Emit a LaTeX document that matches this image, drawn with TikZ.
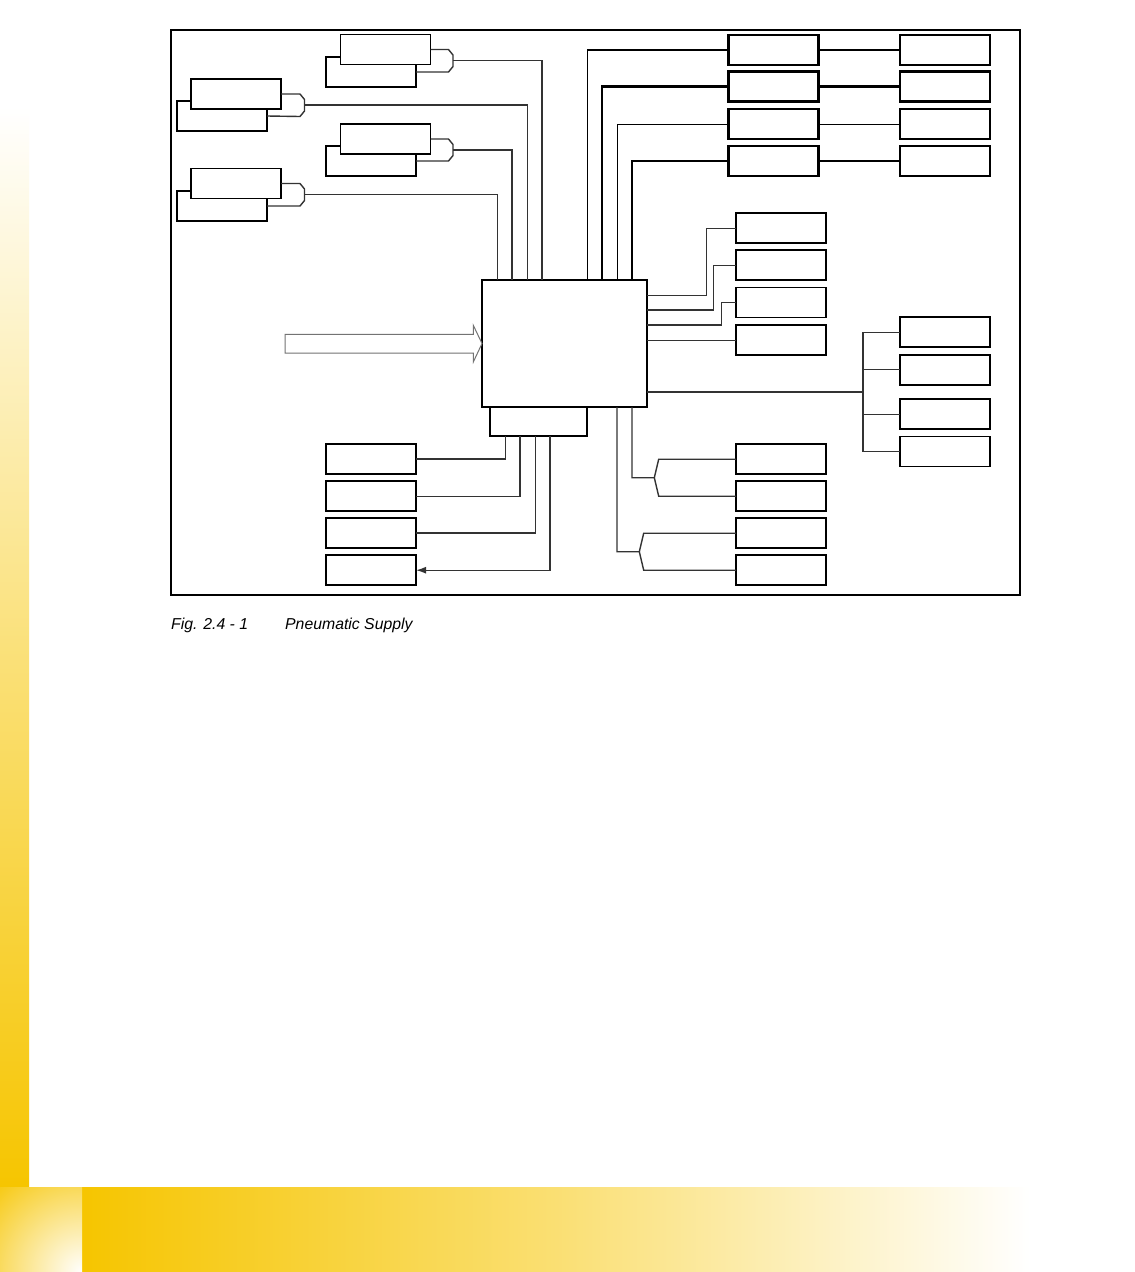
\documentclass[tikz,border=0pt]{standalone}
\usepackage{fontspec}
\newfontfamily\capfont{Liberation Sans}
\usetikzlibrary{arrows.meta}
\definecolor{gold}{HTML}{F6C500}
\begin{document}
\begin{tikzpicture}[x=1pt,y=-1pt,
  bx/.style={draw=black, line width=1.7pt, fill=white, minimum width=90pt, minimum height=30pt, inner sep=0pt, outer sep=0pt},
  bxb/.style={bx, line width=2.1pt},
  conn/.style={draw=black!80, line width=1.4pt},
  connt/.style={draw=black, line width=1.1pt},
  connb/.style={draw=black, line width=2.3pt},
  captxt/.style={anchor=base west, inner sep=0pt, font=\capfont\itshape\fontsize{15.8}{19}\selectfont}]
\useasboundingbox (0,0) rectangle (1135,1272);
\fill[white] (0,0) rectangle (1135,1272);
% page decoration
\shade[top color=white, bottom color=gold, middle color=gold!52] (0,107) rectangle (29,1187);
\shade[left color=gold, right color=white, middle color=gold!55] (82,1187) rectangle (1030,1272);
\begin{scope}
  \clip (0,1187) rectangle (82,1272);
  \fill[gold] (0,1187) rectangle (82,1272);
  \shade[inner color=white, outer color=gold] (82,1272) circle (130);
\end{scope}
% frame
\draw[line width=1.2pt] (171,30) rectangle (1020,595);

% left pairs
\node[bx] (p1b) at (371,72) {};
\node[bx] (p1f) at (385.5,49.5) {};
\node[bx] (p2b) at (222,116) {};
\node[bx] (p2f) at (236,94) {};
\node[bx] (p3b) at (371,161) {};
\node[bx] (p3f) at (385.5,139) {};
\node[bx] (p4b) at (222,206) {};
\node[bx] (p4f) at (236,183.5) {};

% main box and sub box
\node[bx, line width=1.2pt, minimum width=97pt, minimum height=29pt] (sub) at (538.5,421.5) {};
\node[bx, minimum width=165pt, minimum height=127pt] (main) at (564.5,343.5) {};

% entry points on main
\coordinate (t1) at (497.5,280);
\coordinate (t2) at (512,280);
\coordinate (t3) at (527.5,280);
\coordinate (t4) at (542,280);
\coordinate (t5) at (587.5,280);
\coordinate (t6) at (602,280);
\coordinate (t7) at (617.5,280);
\coordinate (t8) at (632,280);
\coordinate (e1) at (647,295.3);
\coordinate (e2) at (647,310);
\coordinate (e3) at (647,325);
\coordinate (e5) at (647,392);
\coordinate (bus) at (863,392);
\coordinate (s1) at (505.3,436);
\coordinate (s2) at (520,436);
\coordinate (s3) at (535.3,436);
\coordinate (s4) at (550,436);
\coordinate (u1) at (632,407);
\coordinate (u2) at (617,407);

% chevron merges of left pairs
\draw[conn] (p1f.east) -- ++(18,0) -- ++(4.5,5.5) -- ++(0,11.5) -- ++(-4.5,5.5) -- (p1b.east);
\draw[conn] (p2f.east) -- ++(19,0) -- ++(4.5,5.5) -- ++(0,11.5) -- ++(-4.5,5.5) -- (p2b.east);
\draw[conn] (p3f.east) -- ++(18,0) -- ++(4.5,5.5) -- ++(0,11) -- ++(-4.5,5.5) -- (p3b.east);
\draw[conn] (p4f.east) -- ++(19,0) -- ++(4.5,5.5) -- ++(0,11.5) -- ++(-4.5,5.5) -- (p4b.east);
\path (p1f.east) ++(22.5,11.25) coordinate (p1t);
\path (p2f.east) ++(23.5,11) coordinate (p2t);
\path (p3f.east) ++(22.5,11) coordinate (p3t);
\path (p4f.east) ++(23.5,11) coordinate (p4t);
\draw[conn] (p1t) -| (t4);
\draw[conn] (p2t) -| (t3);
\draw[conn] (p3t) -| (t2);
\draw[conn] (p4t) -| (t1);

% top right rows
\node[bxb] (a1) at (773.5,50) {};
\node[bxb] (a2) at (773.5,86.5) {};
\node[bxb] (a3) at (773.5,124.2) {};
\node[bxb] (a4) at (773.5,161.2) {};
\node[bxb] (b1) at (945,50) {};
\node[bxb] (b2) at (945,86.5) {};
\node[bxb] (b3) at (945,124.2) {};
\node[bxb] (b4) at (945,161.2) {};
\draw[connt] (t5) |- (a1.west);
\draw[connb] (t6) |- (a2.west);
\draw[connt] (t7) |- (a3.west);
\draw[connb] (t8) |- (a4.west);
\draw[connt] (a1.east) -- (b1.west);
\draw[connb] (a2.east) -- (b2.west);
\draw[connt] (a3.east) -- (b3.west);
\draw[connb] (a4.east) -- (b4.west);

% right middle
\node[bx] (m1) at (781,228.3) {};
\node[bx] (m2) at (781,265.3) {};
\node[bx] (m3) at (781,302.5) {};
\node[bx] (m4) at (781,340.2) {};
\draw[conn] (e1) -- ++(59.7,0) |- (m1.west);
\draw[conn] (e2) -- ++(66.7,0) |- (m2.west);
\draw[conn] (e3) -- ++(74.3,0) |- (m3.west);
\draw[conn] (main.east |- m4.west) -- (m4.west);

% far right bus
\node[bx] (f1) at (945,332.3) {};
\node[bx] (f2) at (945,369.7) {};
\node[bx] (f3) at (945,414.2) {};
\node[bx] (f4) at (945,451.5) {};
\draw[conn] (e5) -- (bus);
\draw[conn] (f1.west) -| (bus |- f4.west) -- (f4.west);
\draw[conn] (bus |- f2.west) -- (f2.west);
\draw[conn] (bus |- f3.west) -- (f3.west);

% bottom left
\node[bx] (l1) at (371,458.8) {};
\node[bx] (l2) at (371,496.2) {};
\node[bx] (l3) at (371,533) {};
\node[bx] (l4) at (371,570.2) {};
\draw[conn] (s1) |- (l1.east);
\draw[conn] (s2) |- (l2.east);
\draw[conn] (s3) |- (l3.east);
\draw[conn, -{Latex[length=10pt,width=7pt]}] (s4) |- (l4.east);

% bottom right
\node[bx] (r1) at (781,459.2) {};
\node[bx] (r2) at (781,496.2) {};
\node[bx] (r3) at (781,533.2) {};
\node[bx] (r4) at (781,570.2) {};
\draw[conn] (u1) |- ++(22.3,70.7) coordinate (k1) -- ++(4.4,-18.5) -- (r1.west);
\draw[conn] (k1) -- ++(4.4,18.5) -- (r2.west);
\draw[conn] (u2) |- ++(22.3,144.7) coordinate (k2) -- ++(4.4,-18.5) -- (r3.west);
\draw[conn] (k2) -- ++(4.4,18.5) -- (r4.west);

% input arrow
\draw[draw=black!55, line width=1pt, fill=white] (285,334.3) -- (473.3,334.3) -- (473.3,325.3) -- (main.west) -- (473.3,362) -- (473.3,353) -- (285,353) -- cycle;

% caption
\node[captxt] (cap1) at (171,629.5) {Fig. 2.4 - 1};
\node[captxt] (cap2) at (285,629.5) {Pneumatic Supply};
\end{tikzpicture}
\end{document}
